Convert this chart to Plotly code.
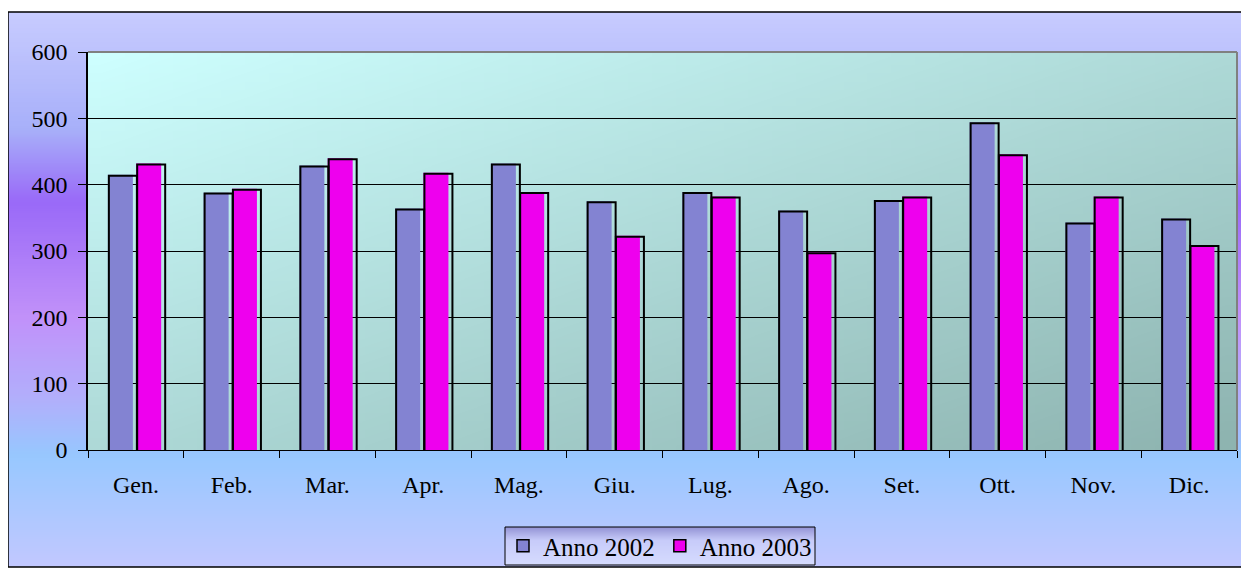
import base64, struct, zlib
import plotly.graph_objects as go

# ---------------- data ----------------
months = ["Gen.", "Feb.", "Mar.", "Apr.", "Mag.", "Giu.", "Lug.", "Ago.", "Set.", "Ott.", "Nov.", "Dic."]
anno_2002 = [415, 388, 429, 364, 432, 375, 389, 361, 377, 494, 343, 349]
anno_2003 = [432, 394, 440, 418, 389, 323, 382, 298, 382, 446, 382, 309]
series_names = ["Anno 2002", "Anno 2003"]
y_ticks = [0, 100, 200, 300, 400, 500, 600]


# ------------- gradient images (pure python png) -------------
def png_data_uri(w, h, pixel_fn):
    raw = b""
    for j in range(h):
        row = b"\x00"
        for i in range(w):
            r, g, b = pixel_fn(i / max(w - 1, 1), j / max(h - 1, 1))
            row += bytes((int(r), int(g), int(b)))
        raw += row

    def chunk(tag, data):
        c = struct.pack(">I", len(data)) + tag + data
        return c + struct.pack(">I", zlib.crc32(tag + data) & 0xFFFFFFFF)

    png = b"\x89PNG\r\n\x1a\n"
    png += chunk(b"IHDR", struct.pack(">IIBBBBB", w, h, 8, 2, 0, 0, 0))
    png += chunk(b"IDAT", zlib.compress(raw, 9))
    png += chunk(b"IEND", b"")
    return "data:image/png;base64," + base64.b64encode(png).decode()


def lerp_stops(stops, t):
    for k in range(len(stops) - 1):
        t0, c0 = stops[k]
        t1, c1 = stops[k + 1]
        if t0 <= t <= t1:
            f = (t - t0) / (t1 - t0) if t1 > t0 else 0
            return tuple(c0[n] + (c1[n] - c0[n]) * f for n in range(3))
    return stops[-1][1]


outer_stops = [
    (0.00, (200, 204, 255)),
    (0.21, (168, 176, 250)),
    (0.34, (154, 106, 248)),
    (0.55, (194, 146, 250)),
    (0.70, (178, 176, 252)),
    (0.80, (152, 200, 255)),
    (1.00, (194, 200, 255)),
]
outer_img = png_data_uri(2, 120, lambda x, y: lerp_stops(outer_stops, y))

tl, br = (206, 255, 255), (142, 180, 176)
plot_img = png_data_uri(
    48, 48,
    lambda x, y: tuple(tl[n] + (br[n] - tl[n]) * (0.5 * x + 0.5 * y) for n in range(3)),
)

legend_stops = [(0.0, (150, 150, 215)), (0.35, (200, 204, 250)), (1.0, (214, 220, 255))]
legend_img = png_data_uri(2, 40, lambda x, y: lerp_stops(legend_stops, y))

# ---------------- figure geometry ----------------
# page body has an 8px margin, so figure pixel = screen pixel - 8
OFF = 8
W, H = 1241, 560
L, R, T, B = 80, 12, 44, 118
pw, ph = W - L - R, H - T - B


def px(sx):
    return (sx - OFF - L) / pw


def py(sy):
    return (H - B - (sy - OFF)) / ph


cat_px = pw / len(months)
u = 1.0 / cat_px  # one pixel in category units
fill_w = 25 * u
off_2002 = -28 * u
off_2003 = 0.3 * u

fig = go.Figure()
# coloured fills
fig.add_trace(go.Bar(
    x=months, y=anno_2002, name=series_names[0], showlegend=False,
    offset=off_2002, width=fill_w,
    marker=dict(color="#8383d2", line=dict(width=0)),
))
fig.add_trace(go.Bar(
    x=months, y=anno_2003, name=series_names[1], showlegend=False,
    offset=off_2003, width=fill_w,
    marker=dict(color="#ee00ee", line=dict(width=0)),
))
# offset black outlines (shadow-like frame)
for vals, off in ((anno_2002, off_2002), (anno_2003, off_2003)):
    fig.add_trace(go.Bar(
        x=months, y=vals, base=-1.5, showlegend=False, hoverinfo="skip",
        offset=off + 1 * u, width=fill_w + 3 * u,
        marker=dict(color="rgba(0,0,0,0)", line=dict(color="black", width=2)),
    ))
# legend entries
fig.add_trace(go.Bar(x=[None], y=[None], name=series_names[0],
                     marker=dict(color="#8383d2", line=dict(color="black", width=1.5))))
fig.add_trace(go.Bar(x=[None], y=[None], name=series_names[1],
                     marker=dict(color="#ee00ee", line=dict(color="black", width=1.5))))

font_family = "Liberation Serif, Times New Roman, serif"

fig.update_layout(
    width=W, height=H,
    margin=dict(l=L, r=R, t=T, b=B, autoexpand=False),
    paper_bgcolor="white",
    plot_bgcolor="rgba(0,0,0,0)",
    barmode="overlay",
    font=dict(family=font_family, size=24, color="black"),
    showlegend=True,
    legend=dict(
        orientation="h", x=px(660), y=py(546), xanchor="center", yanchor="middle",
        bgcolor="rgba(0,0,0,0)", borderwidth=0,
        font=dict(family=font_family, size=25, color="black"),
        tracegroupgap=0, itemwidth=30,
    ),
    xaxis=dict(
        type="category", categoryorder="array", categoryarray=months,
        range=[-0.5, len(months) - 0.5],
        showgrid=False, showline=True, linecolor="black", linewidth=1,
        ticks="outside", tickson="boundaries", ticklen=7, tickcolor="black",
        ticklabelstandoff=13,
        tickfont=dict(family=font_family, size=24, color="black"),
    ),
    yaxis=dict(
        range=[0, 600], tickvals=y_ticks, showgrid=True, gridcolor="black", gridwidth=1,
        zeroline=False, showline=True, linecolor="black", linewidth=1.5,
        ticks="outside", ticklen=8, tickcolor="black", ticklabelstandoff=6,
        tickfont=dict(family=font_family, size=24, color="black"),
    ),
    images=[
        dict(source=outer_img, xref="paper", yref="paper",
             x=px(8), y=py(12), sizex=px(1247) - px(8), sizey=py(12) - py(567),
             xanchor="left", yanchor="top", sizing="stretch", layer="below"),
        dict(source=plot_img, xref="paper", yref="paper",
             x=0, y=1, sizex=1, sizey=1,
             xanchor="left", yanchor="top", sizing="stretch", layer="below"),
        dict(source=legend_img, xref="paper", yref="paper",
             x=px(505), y=py(527), sizex=px(815) - px(505), sizey=py(527) - py(565),
             xanchor="left", yanchor="top", sizing="stretch", layer="below"),
    ],
    shapes=[
        dict(type="rect", xref="paper", yref="paper",
             x0=px(8), x1=px(1247), y0=py(567), y1=py(12),
             line=dict(color="black", width=1.5), layer="below"),
        dict(type="rect", xref="paper", yref="paper",
             x0=px(505), x1=px(815), y0=py(565), y1=py(527),
             line=dict(color="black", width=1), layer="below"),
        dict(type="line", xref="paper", yref="paper", x0=0, x1=1, y0=1, y1=1,
             line=dict(color="#808080", width=2)),
        dict(type="line", xref="paper", yref="paper", x0=1, x1=1, y0=0, y1=1,
             line=dict(color="#808080", width=2)),
    ],
)

fig.write_html("out.html")
